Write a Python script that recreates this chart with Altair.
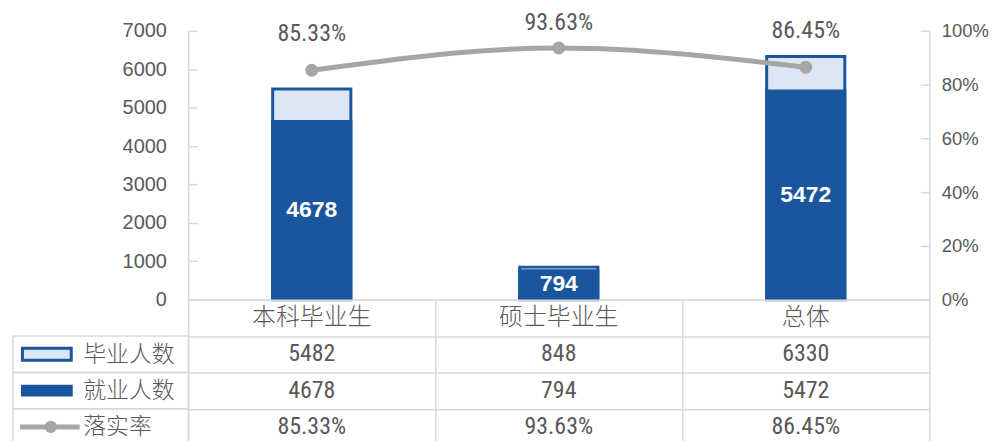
import altair as alt
import pandas as pd

# ---- data ----
categories = ["本科毕业生", "硕士毕业生", "总体"]
graduates = [5482, 848, 6330]      # 毕业人数
employed = [4678, 794, 5472]       # 就业人数
rates = [0.8533, 0.9363, 0.8645]   # 落实率
row_names = ["毕业人数", "就业人数", "落实率"]
left_ticks = [0, 1000, 2000, 3000, 4000, 5000, 6000, 7000]
right_ticks = [0, 0.2, 0.4, 0.6, 0.8, 1.0]

DARK = "#1A569E"
LIGHT = "#DCE6F4"
GRAY = "#A6A6A6"
TXT = "#595959"
GRID = "#D9D9D9"
NUM_FONT = "Liberation Sans"
NARROW = "Liberation Sans Narrow, Arial Narrow, Roboto Condensed, Liberation Sans"
CJK = "Noto Sans CJK SC"

df = pd.DataFrame({"cat": categories, "grad": graduates, "emp": employed, "rate": rates})

cat_scale = alt.Scale(domain=categories, paddingInner=0, paddingOuter=0)
x_top = alt.X("cat:N", sort=categories, scale=cat_scale,
              axis=alt.Axis(title=None, labels=False, ticks=False, domain=True,
                            domainColor=GRID, domainWidth=1.5, grid=False))

count_scale = alt.Scale(domain=[0, 7000], nice=False)
rate_scale = alt.Scale(domain=[0, 1], nice=False)

count_axis = alt.Axis(title=None, orient="left", values=left_ticks, format="d", grid=True,
                      gridDash=[9, 3000], gridColor=GRID, gridWidth=1.5, ticks=False,
                      domain=True, domainColor=GRID, domainWidth=1.5,
                      labelPadding=22, labelFont=NUM_FONT, labelFontSize=20,
                      labelColor=TXT)
rate_axis = alt.Axis(title=None, orient="right", values=right_ticks, format="0%",
                     grid=True, gridDash=[9, 3000], gridColor=GRID, gridWidth=1.5,
                     ticks=False, domain=True, domainColor=GRID, domainWidth=1.5,
                     labelPadding=12, labelFont=NUM_FONT, labelFontSize=18.5,
                     labelColor=TXT)

grad_bar = alt.Chart(df).mark_bar(size=78.5, fill=LIGHT, stroke=DARK, strokeWidth=3).encode(
    x=x_top, y=alt.Y("grad:Q", scale=count_scale, axis=count_axis))
emp_bar = alt.Chart(df).mark_bar(size=81.5, color=DARK).encode(
    x=x_top, y=alt.Y("emp:Q", scale=count_scale, axis=count_axis))
bar_labels = alt.Chart(df).transform_calculate(mid="datum.emp / 2").mark_text(
    color="white", fontWeight="bold", fontSize=23, font=NUM_FONT, baseline="middle"
).encode(x=x_top, y=alt.Y("mid:Q", scale=count_scale, axis=count_axis),
         text=alt.Text("emp:Q", format="d"))

line = alt.Chart(df).mark_line(color=GRAY, strokeWidth=5, interpolate="monotone").encode(
    x=x_top, y=alt.Y("rate:Q", scale=rate_scale, axis=rate_axis))
pts = alt.Chart(df).mark_circle(size=170, color=GRAY, opacity=1).encode(
    x=x_top, y=alt.Y("rate:Q", scale=rate_scale, axis=rate_axis))
line_labels = alt.Chart(df).transform_calculate(lbl="min(datum.rate + 0.135, 1.03)").mark_text(
    fontSize=24, color=TXT, font=NARROW, baseline="middle"
).encode(x=x_top, y=alt.Y("lbl:Q", scale=rate_scale, axis=rate_axis),
         text=alt.Text("rate:Q", format=".2%"))

counts = alt.layer(grad_bar, emp_bar, bar_labels)
rate_layer = alt.layer(line, pts, line_labels)
top = alt.layer(counts, rate_layer).resolve_scale(y="independent").properties(
    width=744, height=270)

# ---- data table below ----
rows_domain = ["hdr"] + row_names
recs = []
for c, g, e, r in zip(categories, graduates, employed, rates):
    recs.append({"cat": c, "row": "hdr", "txt": c})
    recs.append({"cat": c, "row": row_names[0], "txt": str(g)})
    recs.append({"cat": c, "row": row_names[1], "txt": str(e)})
    recs.append({"cat": c, "row": row_names[2], "txt": f"{r * 100:.2f}%"})
tdf = pd.DataFrame(recs)
rdf = pd.DataFrame({"row": row_names, "cat": categories})

row_scale = alt.Scale(domain=rows_domain, paddingInner=0, paddingOuter=0)
x_tab = alt.X("cat:N", sort=categories, scale=cat_scale,
              axis=alt.Axis(orient="bottom", title=None, labels=False, ticks=False, domain=False,
                            grid=True, tickBand="extent", gridColor=GRID, gridWidth=1.5))
tab_axis = alt.Axis(title=None, ticks=False, domain=False, grid=True, tickBand="extent",
                    gridColor=GRID, gridWidth=1.5,
                    labelExpr="datum.value == 'hdr' ? '' : datum.value",
                    labelFont=CJK, labelFontSize=23, labelFontWeight=300,
                    labelColor=TXT, labelAlign="left", labelPadding=106)
y_tab = alt.Y("row:N", sort=rows_domain, scale=row_scale, axis=tab_axis)

hdr_text = alt.Chart(tdf).transform_filter("datum.row == 'hdr'").mark_text(
    font=CJK, fontSize=24, fontWeight=300, color=TXT, baseline="middle").encode(
    x=x_tab, y=y_tab, text="txt:N")
val_text = alt.Chart(tdf).transform_filter("datum.row != 'hdr'").mark_text(
    font=NARROW, fontSize=24, color=TXT, baseline="middle").encode(
    x=x_tab, y=y_tab, text="txt:N")

hdr_box = alt.Chart(rdf).mark_rect(fill="white", fillOpacity=0, stroke=GRID, strokeWidth=1.5).encode(
    x=alt.value(-176), x2=alt.value(0), y=y_tab)
sym_grad = alt.Chart(rdf).transform_filter(f"datum.row == '{row_names[0]}'").mark_point(
    shape="M-1,-0.245H1V0.245H-1Z", size=2401, filled=True, fill=LIGHT, stroke=DARK,
    strokeWidth=3, opacity=1).encode(x=alt.value(-142), y=y_tab)
sym_emp = alt.Chart(rdf).transform_filter(f"datum.row == '{row_names[1]}'").mark_point(
    shape="M-1,-0.23H1V0.23H-1Z", size=2704, filled=True, fill=DARK, strokeWidth=0,
    opacity=1).encode(x=alt.value(-142), y=y_tab)
sym_line = alt.Chart(rdf).transform_filter(f"datum.row == '{row_names[2]}'").mark_point(
    shape="M-1,0H1", size=3600, filled=False, stroke=GRAY, strokeWidth=5,
    opacity=1).encode(x=alt.value(-139), y=y_tab)
sym_dot = alt.Chart(rdf).transform_filter(f"datum.row == '{row_names[2]}'").mark_circle(
    size=150, color=GRAY, opacity=1).encode(x=alt.value(-138), y=y_tab)

table = alt.layer(hdr_box, hdr_text, val_text, sym_grad, sym_emp, sym_line, sym_dot).properties(
    width=744, height=146)

chart = alt.vconcat(top, table, spacing=0, bounds="flush").configure_view(stroke=None).properties(
    padding={"left": 2, "top": 1, "right": 0, "bottom": 0})

chart.save("out.html", embed_options={"renderer": "svg", "actions": False})
